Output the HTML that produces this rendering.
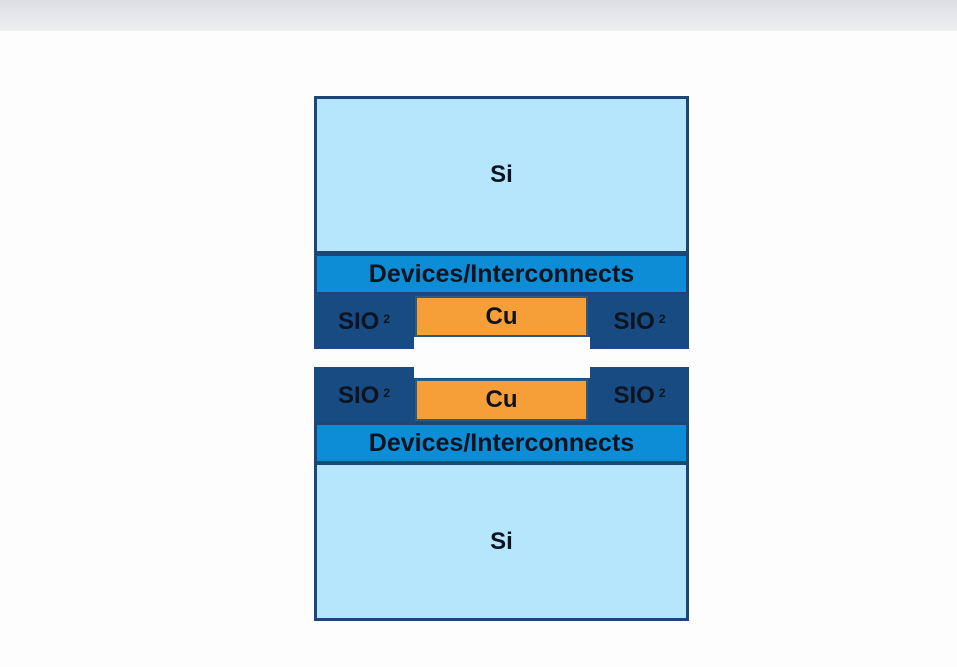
<!DOCTYPE html>
<html><head><meta charset="utf-8"><style>
body{margin:0;width:957px;height:667px;background:#fdfdfd;position:relative;overflow:hidden;font-family:"Liberation Sans",sans-serif;}
.top{position:absolute;left:0;top:0;width:957px;height:31px;background:linear-gradient(180deg,#dcdee4,#eeeff1);}
.b{position:absolute;box-sizing:border-box;}
.t{display:flex;align-items:center;justify-content:center;font-weight:bold;color:#0d1420;font-size:24px;}
.navy{background:#1d4677;}
.si{background:#b5e6fb;}
.dev{background:#0d8dd6;font-size:25px;}
.ox{background:#174b82;}
.cu{background:#f69e37;border:2px solid #2a5b86;}
sup{font-size:12px;position:relative;top:-3px;margin-left:4px;vertical-align:top;}
</style></head><body>
<div class="top"></div>
<div class="b navy" style="left:314px;top:96px;width:375px;height:198px;"></div>
<div class="b si t" style="left:317px;top:99px;width:369px;height:152px;">Si</div>
<div class="b dev t" style="left:317px;top:256px;width:369px;height:36px;">Devices/Interconnects</div>
<div class="b ox t" style="left:314px;top:294px;width:100px;height:55px;">SIO<sup>2</sup></div>
<div class="b ox t" style="left:590px;top:294px;width:99px;height:55px;">SIO<sup>2</sup></div>
<div class="b ox" style="left:414px;top:294px;width:176px;height:43px;"></div>
<div class="b cu t" style="left:415px;top:296px;width:173px;height:41px;">Cu</div>
<div class="b ox t" style="left:314px;top:367px;width:100px;height:57px;">SIO<sup>2</sup></div>
<div class="b ox t" style="left:590px;top:367px;width:99px;height:57px;">SIO<sup>2</sup></div>
<div class="b ox" style="left:414px;top:378px;width:176px;height:46px;"></div>
<div class="b cu t" style="left:415px;top:379px;width:173px;height:42px;">Cu</div>
<div class="b navy" style="left:314px;top:422px;width:375px;height:199px;"></div>
<div class="b dev t" style="left:317px;top:425px;width:369px;height:36px;">Devices/Interconnects</div>
<div class="b si t" style="left:317px;top:465px;width:369px;height:153px;">Si</div>
</body></html>
